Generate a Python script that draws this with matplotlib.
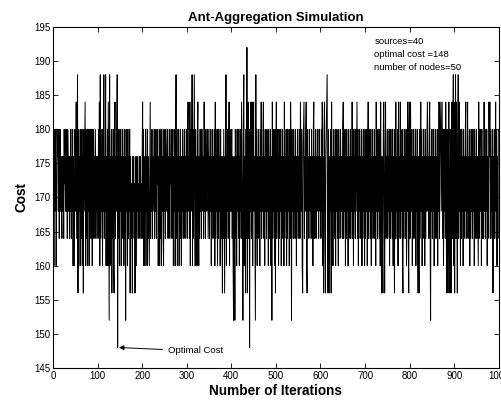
import numpy as np
import matplotlib
matplotlib.use('Agg')
from matplotlib import pyplot as plt

# cost levels, one char per iteration
# 0=148 1=152 2=156 3=160 4=164 5=168 6=172 7=176 8=180 9=184 a=188 b=192
levels = {'0': 148, '1': 152, '2': 156, '3': 160, '4': 164, '5': 168,
          '6': 172, '7': 176, '8': 180, '9': 184, 'a': 188, 'b': 192}

cost_codes = [
    "a838587358 7858478575 4757486758 5848757475 8475837538",
    "75947a2837 5837483728 5793847385 8385848738 4857486475",
    "748593a475 8375a475a3 7483951a37 5827483279 4758a07483",
    "7583748573 8471857384 7582746527 5746275375 7465747564",
    "7948375385 7384753694 7584765847 5847683753 8473857438",
    "5748657847 5847685478 375837a483 7583748537 5847684758",
    "7489574938 57a3847a53 8473895374 8574865749 5748657846",
    "8475837584 7583947583 7485738475 27485274a3 7584793857",
    "5847317518 4738574837 58497518a3 75284b2794 8075948937",
    "95741a4837 5847385947 5894738574 8573847583 7194857382",
    "7948573847 5837485739 4758374857 3849718574 8574863758",
    "4758497583 2789475893 2857486574 8573894758 4768574865",
    "7485937289 42789a3285 2758294738 5748375847 3857486574",
    "8947583748 5738475847 5947385748 5794837584 7583748573",
    "8475837948 5748375847 5847395748 5748395274 2895279475",
    "8475837485 7483752849 5748394759 4758327485 7483759428",
    "9497583748 5748375842 7284795837 4857384758 9574894175",
    "8475837485 7483759478 9579483758 4952872794 28727948a3",
    "927a49528a 4958374857 3847589475 9475837485 7485738475",
    "8475394785 7384754958 4758374597 9485748275 8479583748",
]

info_lines = ['sources=40', 'optimal cost =148', 'number of nodes=50']

cost = [levels[c] for row in cost_codes for c in row.replace(' ', '')]
iters = np.arange(len(cost))

plt.rcParams['font.family'] = ['Liberation Sans', 'DejaVu Sans']

fig = plt.figure(figsize=(5.02, 4.01), dpi=100)
ax = fig.add_axes([0.1056, 0.0823, 0.888, 0.8504])

ax.plot(iters, cost, color='black', lw=0.7)

ax.set_xlim(0, 1000)
ax.set_ylim(145, 195)
ax.set_xticks(np.arange(0, 1001, 100))
ax.set_yticks(np.arange(145, 196, 5))
ax.tick_params(direction='in', top=True, right=True, length=3.5, width=0.6,
               labelsize=7, pad=2)
for s in ax.spines.values():
    s.set_linewidth(0.8)

ax.set_title('Ant-Aggregation Simulation', fontsize=9.5, fontweight='bold', pad=4)
ax.set_xlabel('Number of Iterations', fontsize=9.8, fontweight='bold', labelpad=2)
ax.set_ylabel('Cost', fontsize=9.8, fontweight='bold', labelpad=4)

# run info in the upper right
for i, txt in enumerate(info_lines):
    ax.text(721, 192.8 - i * 1.85, txt, fontsize=6.8, va='center', ha='left')

ax.annotate('Optimal Cost', xy=(148, 148.0), xytext=(258, 147.5),
            fontsize=6.8, va='center', ha='left',
            arrowprops=dict(arrowstyle='-|>', color='black', lw=0.7,
                            mutation_scale=7, shrinkA=2, shrinkB=0))

fig.savefig('out.png', dpi=100)
